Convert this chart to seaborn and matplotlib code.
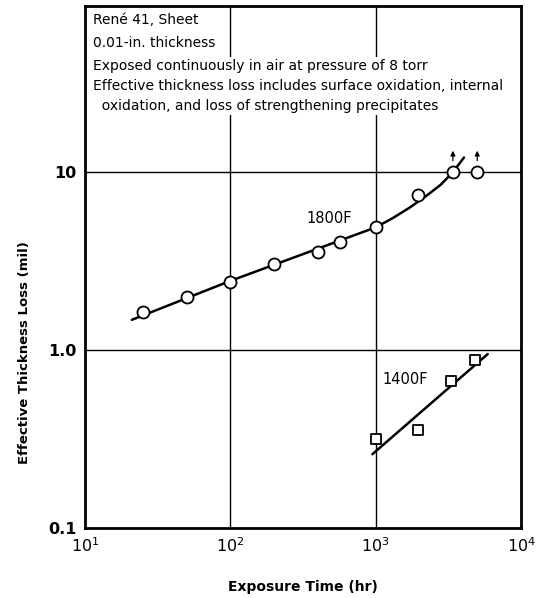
import numpy as np
import pandas as pd
import matplotlib
matplotlib.use("Agg")
import matplotlib.pyplot as plt
import seaborn as sns

# ---- data ----
t_1800 = [25, 50, 100, 200, 400, 570, 1000, 1950, 3400, 5000]
loss_1800 = [1.63, 1.98, 2.43, 3.05, 3.54, 4.03, 4.9, 7.4, 10.0, 10.0]
arrow_times = [3400, 5000]          # points marked with upward arrows (lower bounds)
arrow_vals = [10.0, 10.0]

fit_t_1800 = [21, 100, 1000, 1300, 1700, 2200, 2800, 3400, 4050]
fit_loss_1800 = [1.48, 2.45, 4.9, 5.5, 6.3, 7.3, 8.5, 10.0, 12.1]

t_1400 = [1000, 1950, 3300, 4850]
loss_1400 = [0.316, 0.356, 0.667, 0.88]
fit_t_1400 = [950, 5900]
fit_loss_1400 = [0.26, 0.95]

x_ticks = [10, 100, 1000, 10000]
x_ticklabels = ["$10^1$", "$10^2$", "$10^3$", "$10^4$"]
y_ticks = [0.1, 1.0, 10]
y_ticklabels = ["0.1", "1.0", "10"]

notes_top = "René 41, Sheet\n0.01-in. thickness"
notes_bottom = ("Exposed continuously in air at pressure of 8 torr\n"
                "Effective thickness loss includes surface oxidation, internal\n"
                "  oxidation, and loss of strengthening precipitates")

# ---- style ----
sns.set_style("white")
plt.rcParams["font.family"] = ["DejaVu Sans"]
for k in ["text.color", "axes.labelcolor", "xtick.color", "ytick.color",
          "axes.edgecolor"]:
    plt.rcParams[k] = "black"

fig = plt.figure(figsize=(5.36, 5.98), dpi=100)
ax = fig.add_axes([85 / 536, 70 / 598, 436 / 536, 522 / 598])

ax.set_xscale("log")
ax.set_yscale("log")
ax.set_xlim(10, 10000)
ax.set_ylim(0.1, 86)

# grid
for xv in [100, 1000]:
    ax.axvline(xv, color="black", lw=1.0, zorder=1)
for yv in [1.0, 10]:
    ax.axhline(yv, color="black", lw=1.0, zorder=1)

df_fit18 = pd.DataFrame({"t": fit_t_1800, "v": fit_loss_1800})
df_fit14 = pd.DataFrame({"t": fit_t_1400, "v": fit_loss_1400})
df18 = pd.DataFrame({"t": t_1800, "v": loss_1800})
df14 = pd.DataFrame({"t": t_1400, "v": loss_1400})

sns.lineplot(data=df_fit18, x="t", y="v", ax=ax, color="black", lw=1.8,
             sort=False, zorder=3)
sns.lineplot(data=df_fit14, x="t", y="v", ax=ax, color="black", lw=1.8,
             sort=False, zorder=3)
sns.scatterplot(data=df18, x="t", y="v", ax=ax, marker="o", s=75,
                facecolor="white", edgecolor="black", linewidth=1.3, zorder=4)
sns.scatterplot(data=df14, x="t", y="v", ax=ax, marker="s", s=55,
                facecolor="white", edgecolor="black", linewidth=1.3, zorder=4)

for xa, ya in zip(arrow_times, arrow_vals):
    ax.annotate("", xy=(xa, ya * 1.37), xytext=(xa, ya * 1.12),
                arrowprops=dict(arrowstyle="-|>", color="black", lw=0.9,
                                mutation_scale=7), zorder=5)

ax.text(480, 5.5, "1800F", fontsize=10.5, ha="center", va="center", zorder=5)
ax.text(1590, 0.68, "1400F", fontsize=10.5, ha="center", va="center", zorder=5)

# notes
ax.text(0.018, 0.986, notes_top, transform=ax.transAxes, fontsize=10,
        ha="left", va="top", linespacing=1.75,
        bbox=dict(facecolor="white", edgecolor="none", pad=1.0), zorder=6)
ax.text(0.018, 0.898, notes_bottom, transform=ax.transAxes, fontsize=10,
        ha="left", va="top", linespacing=1.55,
        bbox=dict(facecolor="white", edgecolor="none", pad=1.5), zorder=6)

ax.set_xticks(x_ticks)
ax.set_xticklabels(x_ticklabels)
ax.set_yticks(y_ticks)
ax.set_yticklabels(y_ticklabels)
ax.minorticks_off()
ax.tick_params(axis="both", direction="in", length=4, width=1.0,
               labelsize=11.5, colors="black", pad=6)
for lab in ax.get_yticklabels():
    lab.set_fontweight("bold")

for sp in ax.spines.values():
    sp.set_linewidth(2.0)
    sp.set_color("black")

ax.set_xlabel("Exposure Time (hr)", fontsize=10, fontweight="bold")
ax.xaxis.set_label_coords(0.5, -0.1)
ax.set_ylabel("Effective Thickness Loss (mil)", fontsize=9.5, fontweight="bold")
ax.yaxis.set_label_coords(-0.125, 0.337)

fig.savefig("out.png", dpi=100)
